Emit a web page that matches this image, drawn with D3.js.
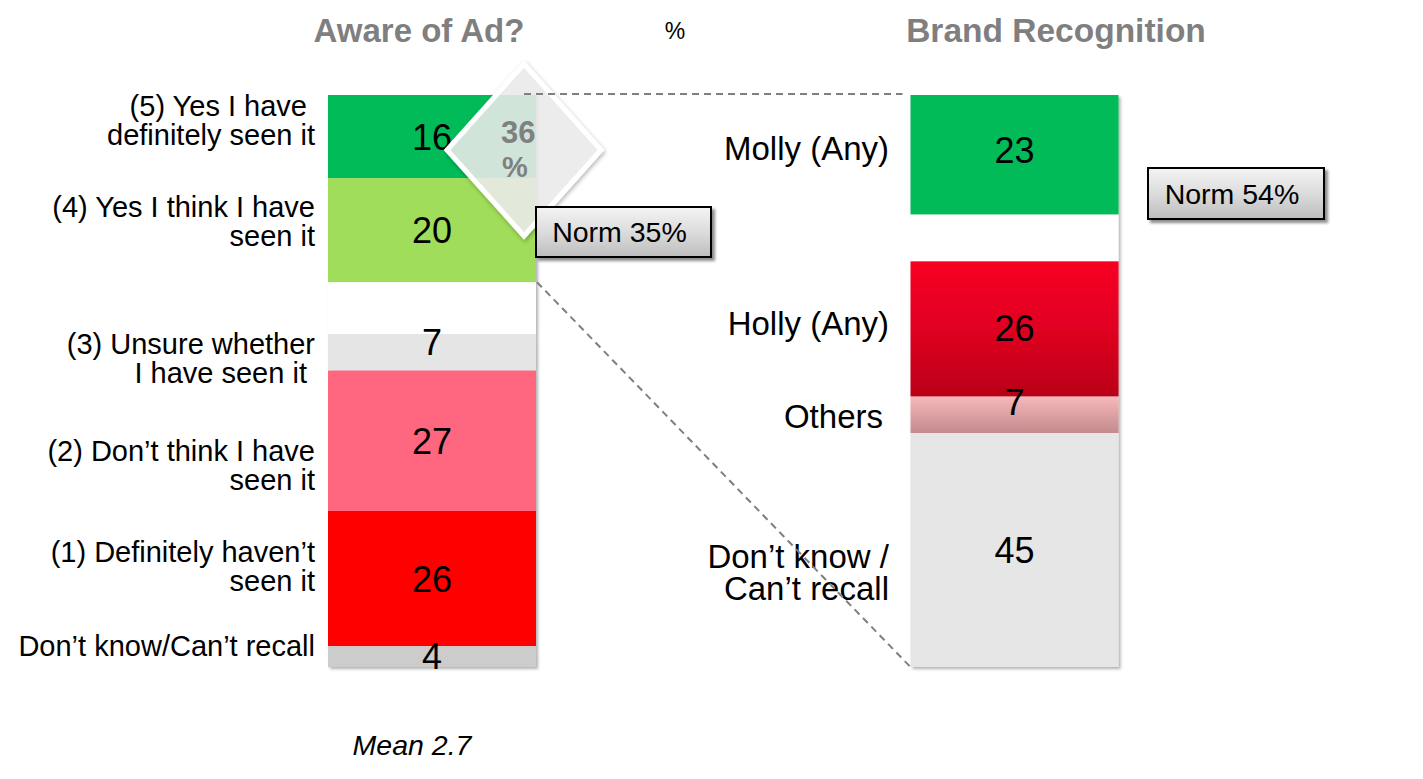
<!DOCTYPE html>
<html><head><meta charset="utf-8">
<script src="https://cdn.jsdelivr.net/npm/d3@7/dist/d3.min.js"></script>
<style>
body{margin:0;background:#fff;}
svg{display:block;font-family:"Liberation Sans",Arial,sans-serif;}
text{white-space:pre;}
</style>
</head><body>
<svg id="c" width="1423" height="779"></svg>
<script>
// ---------------- DATA ----------------
const panelTitles = ["Aware of Ad?", "Brand Recognition"];
const awareLabels = [
  ["(5) Yes I have ", "definitely seen it"],
  ["(4) Yes I think I have", "seen it"],
  ["(3) Unsure whether", "I have seen it "],
  ["(2) Don\u2019t think I have", "seen it"],
  ["(1) Definitely haven\u2019t", "seen it"],
  ["Don\u2019t know/Can\u2019t recall"]
];
const awareValues = [16, 20, 7, 27, 26, 4];
const awareSpacer = 10;      // blank space after the "aware" group (first 2)
const awareTotal = 36;       // top-2 box %
const awareNorm = 35;
const awareMean = 2.7;

const brandLabels = [
  ["Molly (Any)"],
  ["Holly (Any)"],
  ["Others"],
  ["Don\u2019t know /", "Can\u2019t recall"]
];
const brandValues = [23, 26, 7, 45];
const brandSpacer = 9;       // blank space after the first segment
const brandNorm = 54;

// ---------------- STYLES ----------------
const awareColors = ["#06bb58", "#a0dd5a", "#e5e5e5", "#ff6680", "#ff0505", "#cccccc"];
const brandColors = ["#06bb58", "url(#gRed)", "url(#gPink)", "#e6e6e6"];
const titleColor = "#7f7f7f";

// ---------------- LAYOUT ----------------
const svg = d3.select("#c");
const barW = 208;
const x = d3.scalePoint().domain(panelTitles).range([432, 1014.5]);
const y = d3.scaleLinear().domain([0, 110]).range([95, 667]);

// label vertical offsets (relative to segment centre), number label shifts
const awareLabelOff = [-16.5, -9.5, 5.5, 24.5, -12.5, -11];
const brandLabelOff = [-7, -6, 1, 22];
const awareNumShift = [0, 0, -10, 0, 0, -1];
const brandNumShift = [-5, -1, -13, 0];

const defs = svg.append("defs");
function shadow(id, dx, dy, sd, op) {
  const f = defs.append("filter").attr("id", id)
    .attr("x", "-20%").attr("y", "-20%").attr("width", "140%").attr("height", "140%");
  f.append("feDropShadow").attr("dx", dx).attr("dy", dy).attr("stdDeviation", sd)
    .attr("flood-color", "#000").attr("flood-opacity", op);
}
shadow("barSh", 2, 2, 1.5, 0.3);
shadow("boxSh", 3, 3, 1.5, 0.45);
shadow("diaSh", 1, 2, 2, 0.3);
function vgrad(id, stops) {
  const g = defs.append("linearGradient").attr("id", id)
    .attr("x1", 0).attr("y1", 0).attr("x2", 0).attr("y2", 1);
  stops.forEach(s => g.append("stop").attr("offset", s[0]).attr("stop-color", s[1]));
}
vgrad("gRed", [[0, "#f80623"], [0.5, "#e00520"], [1, "#b90318"]]);
vgrad("gPink", [[0, "#f7b8ba"], [1, "#c38a8d"]]);
vgrad("gBox", [[0, "#f4f4f4"], [0.5, "#dcdcdc"], [1, "#bdbdbd"]]);

function build(values, spacerAfter, spacer) {
  const segs = []; let acc = 0;
  values.forEach((v, i) => {
    segs.push({v, i, y0: acc, y1: acc + v});
    acc += v;
    if (i === spacerAfter) { segs.push({v: spacer, i: -1, y0: acc, y1: acc + spacer}); acc += spacer; }
  });
  return segs;
}

function drawBar(title, values, spacerAfter, spacer, colors, labels, labOff, numShift, opts) {
  const cx = x(title), x0 = cx - barW / 2;
  const segs = build(values, spacerAfter, spacer);
  const g = svg.append("g").attr("filter", "url(#barSh)");
  g.selectAll("rect").data(segs).join("rect")
    .attr("x", x0).attr("width", barW)
    .attr("y", d => y(d.y0)).attr("height", d => y(d.y1) - y(d.y0))
    .attr("fill", d => d.i < 0 ? "#ffffff" : colors[d.i]);
  const real = segs.filter(d => d.i >= 0);
  svg.append("g").selectAll("text").data(real).join("text")
    .attr("x", cx).attr("y", d => (y(d.y0) + y(d.y1)) / 2 + numShift[d.i])
    .attr("dy", "0.36em").attr("text-anchor", "middle")
    .attr("font-size", 36).attr("fill", "#000").text(d => d.v);
  // category labels
  const lg = svg.append("g");
  real.forEach(d => {
    const lines = labels[d.i];
    const cy = (y(d.y0) + y(d.y1)) / 2 + labOff[d.i];
    lines.forEach((ln, k) => {
      lg.append("text")
        .attr("x", opts.labelX(d.i)).attr("text-anchor", "end")
        .attr("y", cy + (k - (lines.length - 1) / 2) * opts.lh)
        .attr("dy", "0.36em").attr("font-size", opts.fs).attr("fill", "#000")
        .text(ln);
    });
  });
  return {x0, x1: x0 + barW};
}

const A = drawBar(panelTitles[0], awareValues, 1, awareSpacer, awareColors, awareLabels,
  awareLabelOff, awareNumShift, {labelX: () => 315, fs: 29, lh: 29});
const B = drawBar(panelTitles[1], brandValues, 0, brandSpacer, brandColors, brandLabels,
  brandLabelOff, brandNumShift, {labelX: i => i === 2 ? 883 : 889, fs: 33, lh: 31.5});

// titles
svg.append("text").attr("x", 419).attr("y", 42).attr("text-anchor", "middle")
  .attr("font-size", 33).attr("font-weight", "bold").attr("fill", titleColor).text(panelTitles[0]);
svg.append("text").attr("x", 1056).attr("y", 42).attr("text-anchor", "middle")
  .attr("font-size", 33.5).attr("font-weight", "bold").attr("fill", titleColor).text(panelTitles[1]);
svg.append("text").attr("x", 675).attr("y", 39).attr("text-anchor", "middle")
  .attr("font-size", 23).attr("fill", "#000").text("%");

// mean
svg.append("text").attr("x", 412).attr("y", 755).attr("text-anchor", "middle")
  .attr("font-size", 28.5).attr("font-style", "italic").attr("fill", "#000")
  .text("Mean " + awareMean);

// diamond (top-2 box)
const dcx = A.x1 - 12, dcy = 150, dhw = 77, dhh = 86;
svg.append("path")
  .attr("d", `M${dcx},${dcy - dhh}L${dcx + dhw},${dcy}L${dcx},${dcy + dhh}L${dcx - dhw},${dcy}Z`)
  .attr("fill", "#eeeeee").attr("fill-opacity", 0.85)
  .attr("stroke", "#ffffff").attr("stroke-width", 5).attr("stroke-linejoin", "miter")
  .attr("filter", "url(#diaSh)");
svg.append("text").attr("x", 501).attr("y", 143).attr("font-size", 31).attr("font-weight", "bold")
  .attr("fill", "#808080").text(String(awareTotal));
svg.append("text").attr("x", 502).attr("y", 177).attr("font-size", 29).attr("font-weight", "bold")
  .attr("fill", "#808080").text("%");

// dashed connector lines
const dash = svg.append("g").attr("stroke", "#7f7f7f").attr("stroke-width", 2)
  .attr("stroke-dasharray", "7,5").attr("fill", "none");
dash.append("line").attr("x1", dcx).attr("y1", y(0) - 1).attr("x2", B.x0 - 8).attr("y2", y(0) - 1);
dash.append("line").attr("x1", A.x1 + 1).attr("y1", y(awareValues[0] + awareValues[1]))
  .attr("x2", B.x0).attr("y2", y(110));

// norm boxes
function normBox(x0, y0, w, h, val) {
  svg.append("rect").attr("x", x0).attr("y", y0).attr("width", w).attr("height", h)
    .attr("fill", "url(#gBox)").attr("stroke", "#000").attr("stroke-width", 2)
    .attr("filter", "url(#boxSh)");
  svg.append("text").attr("x", x0 + w / 2 - 4).attr("y", y0 + h / 2).attr("dy", "0.36em")
    .attr("text-anchor", "middle").attr("font-size", 28.5).attr("fill", "#000")
    .text("Norm " + val + "%");
}
normBox(A.x1, 207, 175, 50, awareNorm);
normBox(1148, 168, 176, 51, brandNorm);
</script>
</body></html>
